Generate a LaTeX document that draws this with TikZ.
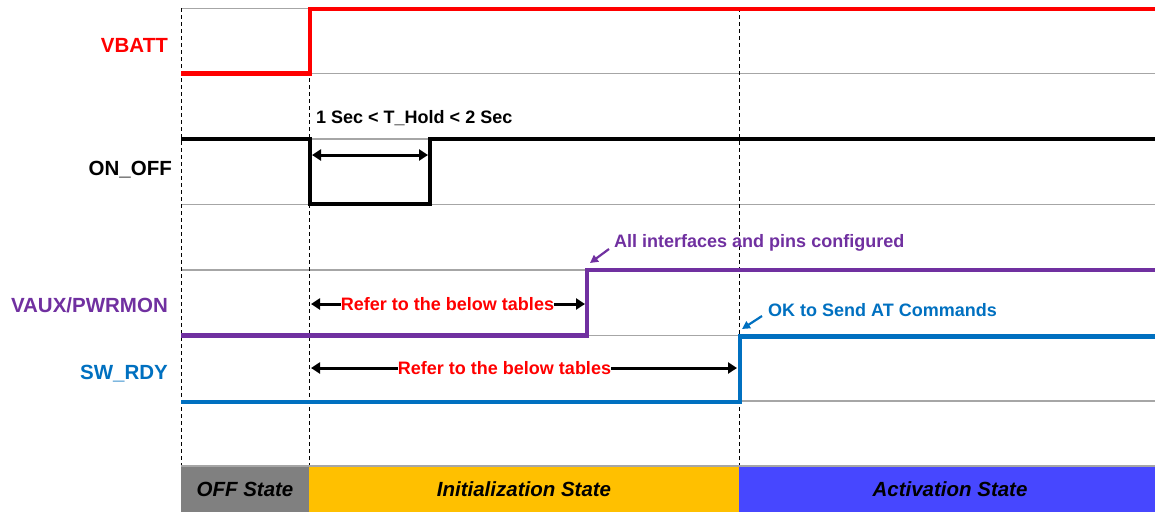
\documentclass[tikz,border=0pt]{standalone}
\usepackage{fontspec}
\setmainfont{Liberation Sans}
\usetikzlibrary{arrows.meta}
\definecolor{vred}{HTML}{FF0000}
\definecolor{vpurple}{HTML}{7030A0}
\definecolor{vblue}{HTML}{0070C0}
\definecolor{gridgray}{HTML}{A6A6A6}
\definecolor{offgray}{HTML}{808080}
\definecolor{initorange}{HTML}{FFC000}
\definecolor{actblue}{HTML}{4747FF}
\begin{document}
\begin{tikzpicture}[x=1pt,y=-1pt,
  grid/.style={draw=gridgray,line width=1.5pt},
  sig/.style={line width=4.2pt,line join=miter},
  vdash/.style={draw=black,dash pattern=on 4pt off 3pt,line width=1pt},
  lbl/.style={font=\fontsize{20.5}{24}\selectfont\bfseries,anchor=east,inner sep=0pt},
  note/.style={font=\fontsize{18}{21}\selectfont\bfseries,inner sep=0pt},
  bartxt/.style={font=\fontsize{20.5}{24}\selectfont\bfseries\itshape,text=black,inner sep=0pt},
  dim/.style={line width=3pt,-{Triangle[length=9pt,width=11pt]}},
  pointer/.style={line width=2.2pt,-{Triangle[length=8pt,width=8pt]}},
]
\useasboundingbox (0,0) rectangle (1155,512);
% state bar
\fill[offgray] (181,465) rectangle (309,512);
\fill[initorange] (309,465) rectangle (739,512);
\fill[actblue] (739,465) rectangle (1155,512);
\node[bartxt] (offst) at (245,489) {OFF State};
\node[bartxt] (initst) at (524,489) {Initialization State};
\node[bartxt] (actst) at (950,489) {Activation State};
% grid
\foreach \yy in {8.5,73.5,139,204.5,270,335.5,401,466}
  \draw[grid] (181,\yy) -- (1155,\yy);
% dashed verticals
\draw[vdash] (181,8) -- (181,465);
\draw[vdash] (309,8) -- (309,465);
\draw[vdash] (739,8) -- (739,465);
% signals
\draw[sig,vred] (181,73.5) -- (310,73.5) -- (310,9) -- (1155,9);
\draw[sig,black] (181,139) -- (310,139) -- (310,204) -- (430,204) -- (430,139) -- (1155,139);
\draw[sig,vpurple] (181,335.5) -- (587,335.5) -- (587,270) -- (1155,270);
\draw[sig,vblue] (181,402) -- (740,402) -- (740,336.5) -- (1155,336.5);
% labels
\node[lbl,text=vred] (lvbatt) at (168,45.5) {VBATT};
\node[lbl,text=black] (lonoff) at (172,170) {ON\_OFF};
\node[lbl,text=vpurple] (lvaux) at (168,305) {VAUX/PWRMON};
\node[lbl,text=vblue] (lswrdy) at (168,374) {SW\_RDY};
% hold time
\node[note,anchor=west,text=black] (hold) at (316,118) {1 Sec < T\_Hold < 2 Sec};
\coordinate (h1) at (312,155);
\coordinate (h2) at (428,155);
\draw[line width=3pt,{Triangle[length=9pt,width=11pt]}-{Triangle[length=9pt,width=11pt]}] (h1) -- (h2);
% refer 1
\node[note,text=vred] (ref1) at (447.5,304) {Refer to the below tables};
\coordinate (r1a) at (311,304);
\coordinate (r1b) at (585,304);
\draw[dim] (ref1.west) -- (r1a);
\draw[dim] (ref1.east) -- (r1b);
% refer 2
\node[note,text=vred] (ref2) at (504.5,368) {Refer to the below tables};
\coordinate (r2a) at (311,368);
\coordinate (r2b) at (737,368);
\draw[dim] (ref2.west) -- (r2a);
\draw[dim] (ref2.east) -- (r2b);
% annotations
\node[note,anchor=west,text=vpurple] (allcfg) at (614,243) {All interfaces and pins configured};
\coordinate (p1) at (590,263);
\draw[pointer,vpurple] (609,249) -- (p1);
\node[note,anchor=west,text=vblue] (okat) at (768,310) {OK to Send AT Commands};
\coordinate (p2) at (742,329);
\draw[pointer,vblue] (762,316) -- (p2);
\end{tikzpicture}
\end{document}
